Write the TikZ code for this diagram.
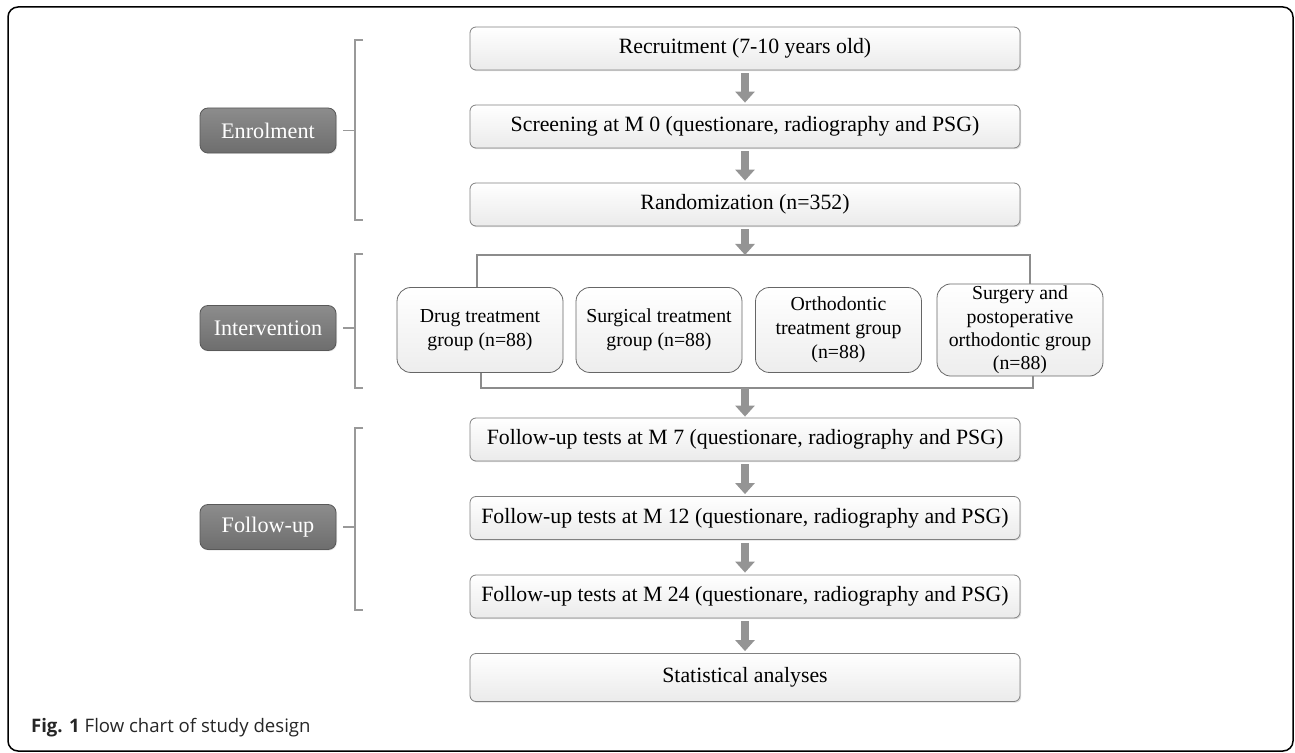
\documentclass[tikz,border=0pt]{standalone}
\usepackage{fontspec}
\setmainfont{Liberation Serif}
\newfontfamily\capfont{Open Sans}
\usetikzlibrary{arrows.meta,shadows}

\tikzset{
  stagebox/.style={draw=black!50, rounded corners=3pt, top color=white, bottom color=black!8,
    minimum width=275pt, minimum height=21.5pt, font=\fontsize{10.9}{12}\selectfont,
    drop shadow={opacity=0.25, shadow xshift=0.6pt, shadow yshift=-0.6pt}},
  groupbox/.style={draw=black!60, rounded corners=7pt, top color=white, bottom color=black!7,
    minimum width=83pt, minimum height=42.5pt, align=center, inner sep=1pt,
    font=\fontsize{9.9}{12}\selectfont},
  phasebox/.style={draw=black!65, rounded corners=4pt, top color=black!45, bottom color=black!57,
    text=white, minimum width=68pt, minimum height=22.5pt, font=\fontsize{11.1}{12}\selectfont,
    drop shadow={opacity=0.2, shadow xshift=0.5pt, shadow yshift=-0.5pt}},
  flow/.style={line width=4pt, draw=black!42, -{Triangle[width=9.5pt,length=5.5pt]}},
  phasebrace/.style={draw=black!40, line width=0.8pt},
  splitline/.style={draw=black!45, line width=1.4pt},
}

\begin{document}
\begin{tikzpicture}[x=0.5pt, y=-0.5pt]
\useasboundingbox (0,0) rectangle (1295,753);
\draw[line width=0.75pt, rounded corners=5pt] (8,7) rectangle (1293,751);

% main column
\node[stagebox] (rec) at (745,48.5) {Recruitment (7-10 years old)};
\node[stagebox] (scr) at (745,126.5) {Screening at M 0 (questionare, radiography and PSG)};
\node[stagebox] (rnd) at (745,204.5) {Randomization (n=352)};

\node[groupbox] (g1) at (480,330) {Drug treatment\\group (n=88)};
\node[groupbox] (g2) at (659,330) {Surgical treatment\\group (n=88)};
\node[groupbox] (g3) at (838.5,330) {Orthodontic\\treatment group\\(n=88)};
\node[groupbox, font=\fontsize{9.9}{11.7}\selectfont] (g4) at (1020,330)
  {Surgery and\\postoperative\\orthodontic group\\(n=88)};

\node[stagebox] (fu7) at (745,439.5) {Follow-up tests at M 7 (questionare, radiography and PSG)};
\node[stagebox] (fu12) at (745,518) {Follow-up tests at M 12 (questionare, radiography and PSG)};
\node[stagebox] (fu24) at (745,596.5) {Follow-up tests at M 24 (questionare, radiography and PSG)};
\node[stagebox, minimum height=24pt] (stat) at (745,677.5) {Statistical analyses};

\coordinate (jointop) at (745,255);
\coordinate (joinbot) at (745,388);

\draw[splitline] ([xshift=-1.5pt]g1.north) |- (jointop) -| ([xshift=5pt]g4.north);
\draw[splitline] ([xshift=0.5pt]g1.south) |- (joinbot) -| ([xshift=6.5pt]g4.south);

\draw[flow] ([yshift=-1.5pt]rec.south) -- ([yshift=1pt]scr.north);
\draw[flow] ([yshift=-1.5pt]scr.south) -- ([yshift=1pt]rnd.north);
\draw[flow] ([yshift=-1.5pt]rnd.south) -- (jointop);
\draw[flow] (joinbot) -- ([yshift=0.5pt]fu7.north);
\draw[flow] ([yshift=-1.5pt]fu7.south) -- ([yshift=1pt]fu12.north);
\draw[flow] ([yshift=-1.5pt]fu12.south) -- ([yshift=1pt]fu24.north);
\draw[flow] ([yshift=-1.5pt]fu24.south) -- ([yshift=1pt]stat.north);

% phases
\node[phasebox] (enrol) at (268,130.5) {Enrolment};
\node[phasebox] (inter) at (268,328) {Intervention};
\node[phasebox] (follow) at (268,527) {Follow-up};

\draw[phasebrace] (363,40) -| (355,220) -- (363,220);
\draw[phasebrace] (363,254) -| (355,388) -- (363,388);
\draw[phasebrace] (363,428) -| (355,610) -- (363,610);
\draw[phasebrace] ([xshift=3.5pt]enrol.east) -- ++(6pt,0);
\draw[phasebrace] ([xshift=3.5pt]inter.east) -- ++(6pt,0);
\draw[phasebrace] ([xshift=3.5pt]follow.east) -- ++(6pt,0);

\node[anchor=west, text=black!85, font=\capfont\fontsize{9.3}{11}\selectfont] (cap) at (24,728)
  {\textbf{Fig. 1} Flow chart of study design};
\end{tikzpicture}
\end{document}
